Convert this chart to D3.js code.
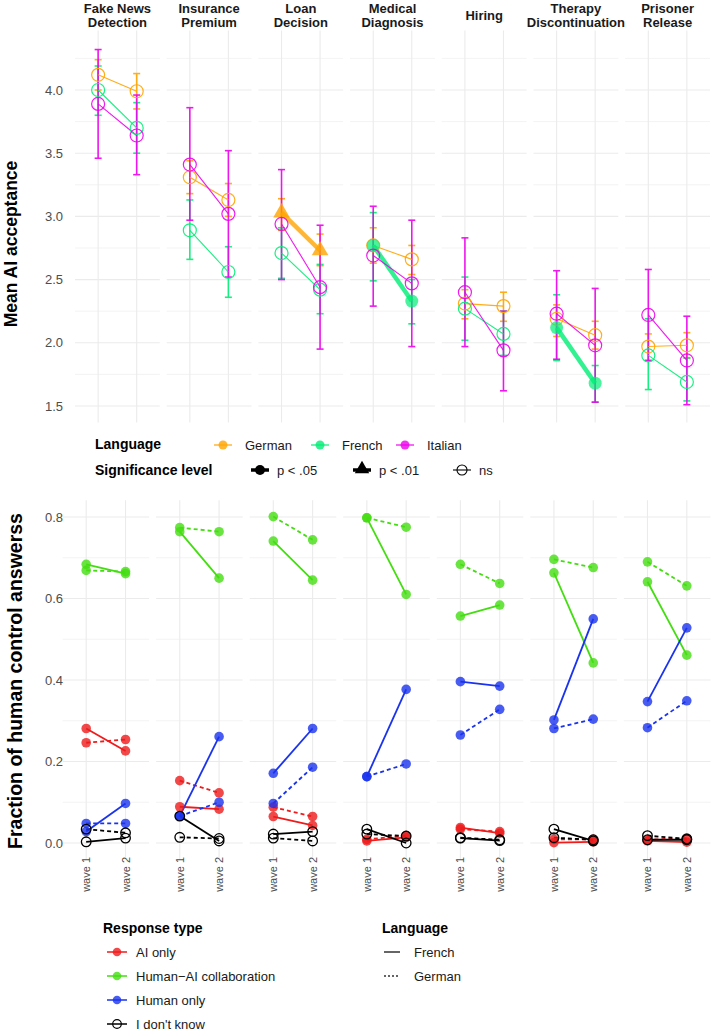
<!DOCTYPE html>
<html>
<head>
<meta charset="utf-8">
<script src="https://cdn.jsdelivr.net/npm/d3@7"></script>
<style>
  body { margin: 0; background: #fff; }
  text { font-family: "Liberation Sans", Arial, sans-serif; }
</style>
</head>
<body>
<div id="chart"></div>
<script>
// ---- data ----
var scenarios = [["Fake News", "Detection"], ["Insurance", "Premium"], ["Loan", "Decision"],
  ["Medical", "Diagnosis"], ["Hiring"], ["Therapy", "Discontinuation"], ["Prisoner", "Release"]];
var waves = ["wave 1", "wave 2"];

// top chart: mean AI acceptance per wave, with CI bounds
var germanMean = [[4.12, 3.99], [3.31, 3.13], [3.03, 2.73], [2.77, 2.66], [2.31, 2.29], [2.19, 2.06], [1.97, 1.98]];
var germanLow  = [[4.00, 3.85], [3.18, 3.00], [2.89, 2.61], [2.63, 2.54], [2.19, 2.17], [2.05, 1.95], [1.86, 1.88]];
var germanHigh = [[4.24, 4.13], [3.44, 3.26], [3.14, 2.86], [2.91, 2.77], [2.42, 2.40], [2.30, 2.17], [2.07, 2.08]];
var germanSig  = ["ns", "ns", "p01", "ns", "ns", "ns", "ns"];

var frenchMean = [[4.00, 3.70], [2.89, 2.56], [2.71, 2.42], [2.77, 2.33], [2.27, 2.07], [2.12, 1.68], [1.90, 1.69]];
var frenchLow  = [[3.80, 3.50], [2.66, 2.36], [2.51, 2.23], [2.49, 2.15], [2.02, 1.90], [1.86, 1.53], [1.63, 1.54]];
var frenchHigh = [[4.19, 3.90], [3.13, 2.76], [2.91, 2.62], [3.03, 2.50], [2.52, 2.25], [2.38, 1.82], [2.19, 1.88]];
var frenchSig  = ["ns", "ns", "ns", "p05", "ns", "p05", "ns"];

var italianMean = [[3.89, 3.64], [3.41, 3.02], [2.94, 2.44], [2.69, 2.47], [2.40, 1.94], [2.23, 1.98], [2.22, 1.86]];
var italianLow  = [[3.46, 3.33], [2.97, 2.52], [2.50, 1.95], [2.29, 1.97], [1.97, 1.62], [1.87, 1.53], [1.86, 1.51]];
var italianHigh = [[4.32, 3.96], [3.86, 3.52], [3.37, 2.93], [3.08, 2.97], [2.83, 2.25], [2.57, 2.43], [2.58, 2.21]];
var italianSig  = ["ns", "ns", "ns", "ns", "ns", "ns", "ns"];

var topTicks = [1.5, 2.0, 2.5, 3.0, 3.5, 4.0];

// bottom chart: fraction of answers (French = solid, German = dashed)
var aiOnlyFrench = [[0.281, 0.226], [0.089, 0.083], [0.065, 0.043], [0.005, 0.014], [0.038, 0.024], [0.001, 0.003], [0.005, 0.002]];
var aiOnlyGerman = [[0.246, 0.254], [0.153, 0.123], [0.088, 0.065], [0.009, 0.018], [0.034, 0.028], [0.009, 0.009], [0.008, 0.012]];
var collabFrench = [[0.684, 0.661], [0.764, 0.650], [0.741, 0.645], [0.798, 0.610], [0.557, 0.584], [0.663, 0.442], [0.641, 0.461]];
var collabGerman = [[0.669, 0.666], [0.774, 0.764], [0.801, 0.744], [0.798, 0.775], [0.684, 0.637], [0.696, 0.676], [0.690, 0.631]];
var humanFrench  = [[0.028, 0.097], [0.066, 0.261], [0.171, 0.281], [0.163, 0.377], [0.396, 0.385], [0.302, 0.550], [0.347, 0.528]];
var humanGerman  = [[0.048, 0.048], [0.066, 0.100], [0.097, 0.186], [0.163, 0.194], [0.265, 0.328], [0.281, 0.304], [0.283, 0.349]];
var dontKnowFrench = [[0.003, 0.012], [0.066, 0.005], [0.022, 0.028], [0.034, 0.000], [0.012, 0.006], [0.034, 0.005], [0.008, 0.008]];
var dontKnowGerman = [[0.034, 0.025], [0.014, 0.011], [0.012, 0.005], [0.022, 0.017], [0.013, 0.008], [0.013, 0.008], [0.018, 0.010]];

var bottomTicks = [0.0, 0.2, 0.4, 0.6, 0.8];

// ---- drawing ----
var width = 714, height = 1034;
var svg = d3.select("#chart").append("svg")
  .attr("width", width)
  .attr("height", height);

var gridCol = "#EBEBEB";
var langCol = {German: "#FFA500", French: "#00EE76", Italian: "#EE00EE"};
var respCol = {"AI only": "#EE1C1C", "Human\u2212AI collaboration": "#44DD11", "Human only": "#1A33EE", "I don't know": "#000"};

var topLangs = [
  {name: "German", mean: germanMean, low: germanLow, high: germanHigh, sig: germanSig},
  {name: "French", mean: frenchMean, low: frenchLow, high: frenchHigh, sig: frenchSig},
  {name: "Italian", mean: italianMean, low: italianLow, high: italianHigh, sig: italianSig}
];

var idx = d3.range(scenarios.length);

// ===== TOP CHART =====
var topX = d3.scaleBand().domain(idx).range([75, 710]).paddingInner(0.075);
var topY = d3.scaleLinear().domain([1.37, 4.47]).range([422.4, 30.6]);

function waveScale(band, i) {
  var x0 = band(i);
  return d3.scalePoint().domain(waves).range([x0, x0 + band.bandwidth()]).padding(0.6);
}

var topG = svg.append("g");
idx.forEach(function(i) {
  var x0 = topX(i), bw = topX.bandwidth();
  var xw = waveScale(topX, i);
  var p = topG.append("g");
  // minor grid
  d3.range(1.75, 4.5, 0.5).forEach(function(v) {
    p.append("line").attr("x1", x0).attr("x2", x0 + bw).attr("y1", topY(v)).attr("y2", topY(v))
      .attr("stroke", gridCol).attr("stroke-width", 0.6);
  });
  topTicks.forEach(function(v) {
    p.append("line").attr("x1", x0).attr("x2", x0 + bw).attr("y1", topY(v)).attr("y2", topY(v))
      .attr("stroke", gridCol).attr("stroke-width", 1.1);
  });
  waves.forEach(function(w) {
    p.append("line").attr("x1", xw(w)).attr("x2", xw(w)).attr("y1", topY.range()[1]).attr("y2", topY.range()[0])
      .attr("stroke", gridCol).attr("stroke-width", 1.1);
  });
  // strip label
  var lines = scenarios[i];
  var st = p.append("text").attr("x", x0 + bw / 2).attr("text-anchor", "middle")
    .style("font-size", "13px").style("font-weight", "bold").attr("fill", "#1A1A1A");
  lines.forEach(function(l, k) {
    st.append("tspan").attr("x", x0 + bw / 2)
      .attr("y", lines.length === 1 ? 20 : 13 + k * 14).text(l);
  });

  // error bars
  topLangs.forEach(function(L) {
    waves.forEach(function(w, j) {
      var cx = xw(w);
      var g = p.append("g").attr("stroke", langCol[L.name]).attr("stroke-width", 1.6).attr("opacity", 0.9);
      g.append("line").attr("x1", cx).attr("x2", cx).attr("y1", topY(L.low[i][j])).attr("y2", topY(L.high[i][j]));
      g.append("line").attr("x1", cx - 3.5).attr("x2", cx + 3.5).attr("y1", topY(L.low[i][j])).attr("y2", topY(L.low[i][j]));
      g.append("line").attr("x1", cx - 3.5).attr("x2", cx + 3.5).attr("y1", topY(L.high[i][j])).attr("y2", topY(L.high[i][j]));
    });
  });
  // lines
  topLangs.forEach(function(L) {
    var sig = L.sig[i] !== "ns";
    p.append("line")
      .attr("x1", xw(waves[0])).attr("y1", topY(L.mean[i][0]))
      .attr("x2", xw(waves[1])).attr("y2", topY(L.mean[i][1]))
      .attr("stroke", langCol[L.name]).attr("stroke-width", sig ? 4.5 : 1.1)
      .attr("opacity", sig ? 0.8 : 0.9);
  });
  // points
  topLangs.forEach(function(L) {
    waves.forEach(function(w, j) {
      var cx = xw(w), cy = topY(L.mean[i][j]);
      var s = L.sig[i];
      if (s === "p01") {
        p.append("path").attr("d", d3.symbol(d3.symbolTriangle, 120)())
          .attr("transform", "translate(" + cx + "," + cy + ")")
          .attr("fill", langCol[L.name]).attr("opacity", 0.8);
      } else if (s === "p05") {
        p.append("circle").attr("cx", cx).attr("cy", cy).attr("r", 6.5)
          .attr("fill", langCol[L.name]).attr("opacity", 0.7);
      } else {
        p.append("circle").attr("cx", cx).attr("cy", cy).attr("r", 6.5)
          .attr("fill", "none").attr("stroke", langCol[L.name]).attr("stroke-width", 1.2).attr("opacity", 0.9);
      }
    });
  });
});

// top y axis labels
var topAxis = svg.append("g").attr("transform", "translate(66,0)")
  .call(d3.axisLeft(topY).tickValues(topTicks).tickFormat(d3.format(".1f")).tickSize(0).tickPadding(3));
topAxis.select(".domain").remove();
topAxis.selectAll("text").style("font-size", "13px").attr("fill", "#4D4D4D");

svg.append("text").attr("transform", "translate(17,244) rotate(-90)")
  .attr("text-anchor", "middle").style("font-size", "17.5px").style("font-weight", "bold").attr("fill", "#000")
  .text("Mean AI acceptance");

// top legend
var lg1 = svg.append("g");
lg1.append("text").attr("x", 95).attr("y", 449).style("font-size", "14px").style("font-weight", "bold").text("Language");
var langKeys = [{n: "German", x: 223}, {n: "French", x: 320}, {n: "Italian", x: 405}];
langKeys.forEach(function(k) {
  lg1.append("line").attr("x1", k.x - 9).attr("x2", k.x + 9).attr("y1", 445).attr("y2", 445)
    .attr("stroke", langCol[k.n]).attr("stroke-width", 1.3).attr("opacity", 0.9);
  lg1.append("circle").attr("cx", k.x).attr("cy", 445).attr("r", 4.5).attr("fill", langCol[k.n]).attr("opacity", 0.8);
  lg1.append("text").attr("x", k.x + 22).attr("y", 450).style("font-size", "13px").attr("fill", "#1A1A1A").text(k.n);
});
lg1.append("text").attr("x", 95).attr("y", 475).style("font-size", "14px").style("font-weight", "bold").text("Significance level");
var sigKeys = [{n: "p < .05", x: 260, t: "p05"}, {n: "p < .01", x: 362, t: "p01"}, {n: "ns", x: 462, t: "ns"}];
sigKeys.forEach(function(k) {
  lg1.append("line").attr("x1", k.x - 9).attr("x2", k.x + 9).attr("y1", 470).attr("y2", 470)
    .attr("stroke", "#000").attr("stroke-width", k.t === "ns" ? 1.1 : 3.5);
  if (k.t === "p01") {
    lg1.append("path").attr("d", d3.symbol(d3.symbolTriangle, 90)())
      .attr("transform", "translate(" + k.x + ",469)").attr("fill", "#000");
  } else if (k.t === "p05") {
    lg1.append("circle").attr("cx", k.x).attr("cy", 470).attr("r", 5).attr("fill", "#000");
  } else {
    lg1.append("circle").attr("cx", k.x).attr("cy", 470).attr("r", 5).attr("fill", "none").attr("stroke", "#000").attr("stroke-width", 1.1);
  }
  lg1.append("text").attr("x", k.x + 17).attr("y", 475).style("font-size", "13px").attr("fill", "#1A1A1A").text(k.n);
});

// ===== BOTTOM CHART =====
var botX = d3.scaleBand().domain(idx).range([62.6, 710.4]).paddingInner(0.075);
var botY = d3.scaleLinear().domain([-0.04, 0.841]).range([859.3, 500.3]);

var respSeries = [
  {name: "AI only", french: aiOnlyFrench, german: aiOnlyGerman},
  {name: "Human\u2212AI collaboration", french: collabFrench, german: collabGerman},
  {name: "Human only", french: humanFrench, german: humanGerman},
  {name: "I don't know", french: dontKnowFrench, german: dontKnowGerman}
];

var botG = svg.append("g");
idx.forEach(function(i) {
  var x0 = botX(i), bw = botX.bandwidth();
  var xw = waveScale(botX, i);
  var p = botG.append("g");
  [0.1, 0.3, 0.5, 0.7].forEach(function(v) {
    p.append("line").attr("x1", x0).attr("x2", x0 + bw).attr("y1", botY(v)).attr("y2", botY(v))
      .attr("stroke", gridCol).attr("stroke-width", 0.6);
  });
  bottomTicks.forEach(function(v) {
    p.append("line").attr("x1", x0).attr("x2", x0 + bw).attr("y1", botY(v)).attr("y2", botY(v))
      .attr("stroke", gridCol).attr("stroke-width", 1.1);
  });
  waves.forEach(function(w) {
    p.append("line").attr("x1", xw(w)).attr("x2", xw(w)).attr("y1", botY.range()[1]).attr("y2", botY.range()[0])
      .attr("stroke", gridCol).attr("stroke-width", 1.1);
    p.append("text").attr("transform", "translate(" + (xw(w) + 4) + ",857) rotate(-90)")
      .attr("text-anchor", "end").style("font-size", "11px").attr("fill", "#4D4D4D").text(w);
  });

  respSeries.forEach(function(R) {
    var col = respCol[R.name];
    [["german", "4,3"], ["french", null]].forEach(function(lt) {
      var vals = R[lt[0]][i];
      p.append("line")
        .attr("x1", xw(waves[0])).attr("y1", botY(vals[0]))
        .attr("x2", xw(waves[1])).attr("y2", botY(vals[1]))
        .attr("stroke", col).attr("stroke-width", 1.8)
        .attr("stroke-dasharray", lt[1]);
    });
  });
  respSeries.forEach(function(R) {
    var col = respCol[R.name];
    ["german", "french"].forEach(function(lang) {
      waves.forEach(function(w, j) {
        var c = p.append("circle").attr("cx", xw(w)).attr("cy", botY(R[lang][i][j])).attr("r", 4.8);
        if (R.name === "I don't know") {
          c.attr("fill", "none").attr("stroke", "#000").attr("stroke-width", 1.3);
        } else {
          c.attr("fill", col).attr("opacity", 0.8);
        }
      });
    });
  });
});

var botAxis = svg.append("g").attr("transform", "translate(66,0)")
  .call(d3.axisLeft(botY).tickValues(bottomTicks).tickFormat(d3.format(".1f")).tickSize(0).tickPadding(3));
botAxis.select(".domain").remove();
botAxis.selectAll("text").style("font-size", "13px").attr("fill", "#4D4D4D");

svg.append("text").attr("transform", "translate(22,681) rotate(-90)")
  .attr("text-anchor", "middle").style("font-size", "19.5px").style("font-weight", "bold").attr("fill", "#000")
  .text("Fraction of human control answerss");

// bottom legend
var lg2 = svg.append("g");
lg2.append("text").attr("x", 103).attr("y", 933).style("font-size", "14px").style("font-weight", "bold").text("Response type");
respSeries.forEach(function(R, k) {
  var y = 952 + k * 24;
  var col = respCol[R.name];
  lg2.append("line").attr("x1", 107).attr("x2", 127).attr("y1", y).attr("y2", y).attr("stroke", col).attr("stroke-width", 1.5);
  var c = lg2.append("circle").attr("cx", 117).attr("cy", y).attr("r", 4.3);
  if (R.name === "I don't know") c.attr("fill", "none").attr("stroke", "#000").attr("stroke-width", 1.2);
  else c.attr("fill", col).attr("opacity", 0.8);
  lg2.append("text").attr("x", 136).attr("y", y + 5).style("font-size", "13px").attr("fill", "#1A1A1A").text(R.name);
});
lg2.append("text").attr("x", 382).attr("y", 933).style("font-size", "14px").style("font-weight", "bold").text("Language");
[["French", null], ["German", "2,2"]].forEach(function(d, k) {
  var y = 952 + k * 24;
  lg2.append("line").attr("x1", 384).attr("x2", 400).attr("y1", y).attr("y2", y)
    .attr("stroke", "#333").attr("stroke-width", 1.5).attr("stroke-dasharray", d[1]);
  lg2.append("text").attr("x", 414).attr("y", y + 5).style("font-size", "13px").attr("fill", "#1A1A1A").text(d[0]);
});
</script>
</body>
</html>
